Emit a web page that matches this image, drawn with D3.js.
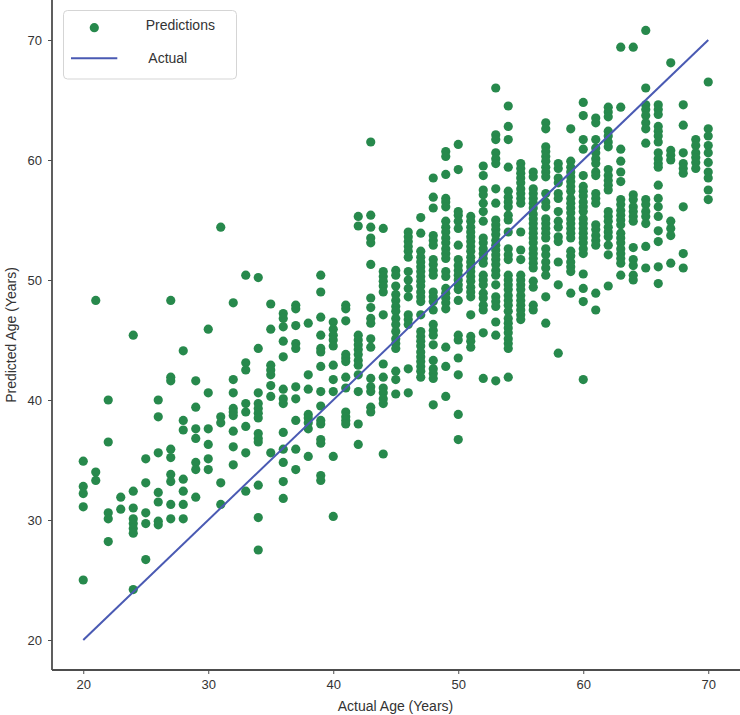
<!DOCTYPE html>
<html>
<head>
<meta charset="utf-8">
<script src="https://cdn.jsdelivr.net/npm/d3@7"></script>
<style>
  body { margin: 0; background: #fff; }
  svg { display: block; font-family: "Liberation Sans", Arial, sans-serif; }
</style>
</head>
<body>
<div id="chart"></div>
<script>
const ages = [20, 21, 22, 23, 24, 25, 26, 27, 28, 29, 30, 31, 32, 33, 34, 35, 36, 37, 38, 39,
  40, 41, 42, 43, 44, 45, 46, 47, 48, 49, 50, 51, 52, 53, 54, 55, 56, 57, 58, 59,
  60, 61, 62, 63, 64, 65, 66, 67, 68, 69, 70];

const predicted = [
  [34.9, 32.8, 32.2, 31.1, 25.0],
  [48.3, 34.0, 33.3],
  [40.0, 36.5, 30.6, 30.1, 28.2],
  [31.9, 30.9],
  [45.4, 32.4, 31.0, 30.1, 29.7, 29.3, 28.9, 24.2],
  [35.1, 33.1, 30.6, 29.7, 26.7],
  [40.0, 38.6, 35.6, 32.3, 31.5, 29.9, 29.6],
  [48.3, 41.9, 41.6, 35.9, 35.2, 33.8, 33.2, 31.3, 30.1],
  [44.1, 38.3, 37.5, 33.4, 32.4, 31.3, 30.1],
  [41.6, 39.4, 37.6, 36.8, 34.8, 34.2, 31.9],
  [45.9, 40.6, 37.6, 36.3, 35.1, 34.2],
  [54.4, 38.6, 38.1, 33.1, 31.3],
  [48.1, 41.7, 40.6, 39.3, 39.0, 38.7, 37.4, 36.1, 34.6],
  [50.4, 43.1, 42.5, 39.7, 39.0, 37.8, 35.6, 32.4],
  [50.2, 44.3, 40.6, 39.7, 39.3, 38.9, 38.5, 37.2, 36.8, 36.5, 32.9, 30.2, 27.5],
  [48.0, 45.9, 42.9, 42.5, 42.1, 41.2, 40.3, 35.6],
  [47.2, 46.8, 46.1, 44.9, 43.6, 40.9, 40.1, 39.7, 37.3, 35.9, 34.8, 33.2, 31.8],
  [47.9, 47.6, 46.2, 44.7, 44.3, 41.1, 40.1, 38.3, 35.9, 34.2],
  [46.4, 42.1, 40.9, 38.8, 38.5, 38.1, 37.6, 35.3],
  [50.4, 49.0, 46.9, 45.4, 44.3, 44.0, 42.8, 40.7, 39.5, 38.3, 38.0, 36.7, 36.4, 33.7, 33.3],
  [46.5, 45.9, 45.4, 45.0, 44.5, 42.9, 41.7, 40.7, 35.3, 30.3],
  [47.9, 47.6, 46.6, 43.8, 43.5, 43.2, 41.9, 41.0, 39.0, 38.6, 38.3, 38.0],
  [55.3, 54.5, 45.4, 45.0, 44.6, 44.2, 43.8, 43.3, 42.9, 42.1, 40.7, 38.0, 36.3],
  [61.5, 55.4, 54.4, 53.5, 53.1, 51.3, 48.5, 47.7, 46.8, 46.4, 45.1, 44.4, 41.8, 41.1, 40.7, 39.4, 39.0],
  [54.3, 50.7, 50.3, 49.9, 49.5, 49.0, 47.1, 43.0, 41.9, 41.0, 40.6, 40.1, 39.7, 35.5],
  [50.8, 50.4, 49.5, 48.8, 48.3, 47.8, 47.4, 46.8, 46.3, 45.7, 45.1, 44.7, 44.3, 42.4, 41.7, 40.5],
  [54.0, 53.6, 53.2, 52.8, 52.4, 51.9, 50.7, 50.0, 49.3, 48.6, 47.1, 46.7, 46.3, 42.6, 40.6],
  [55.2, 53.9, 52.4, 51.9, 51.5, 51.1, 50.7, 50.3, 49.9, 49.5, 49.0, 48.6, 48.2, 47.1, 45.7, 45.3,
   44.9, 44.5, 44.0, 43.6, 43.2, 42.8, 42.4, 41.9],
  [58.5, 56.9, 56.0, 53.7, 53.3, 52.9, 51.7, 51.3, 50.8, 50.4, 49.0, 48.6, 48.2, 47.5, 46.3, 45.8,
   45.4, 44.6, 43.3, 42.6, 42.2, 41.8, 39.6],
  [60.7, 60.3, 58.8, 56.8, 56.5, 56.1, 54.9, 54.4, 54.0, 53.5, 53.1, 52.6, 52.2, 51.8, 50.7, 50.3,
   49.3, 48.9, 48.5, 48.1, 47.6, 44.4, 42.8, 40.3],
  [61.3, 59.2, 55.7, 55.4, 54.9, 54.3, 52.9, 51.7, 51.2, 50.8, 50.4, 50.0, 49.6, 49.2, 48.3, 45.4,
   45.0, 43.5, 42.1, 38.8, 36.7],
  [55.3, 54.9, 54.4, 54.0, 53.6, 53.2, 52.8, 52.4, 51.9, 51.5, 51.1, 50.7, 50.3, 49.9, 49.4, 49.0,
   48.6, 47.1, 45.3, 44.9, 44.4],
  [59.5, 58.7, 57.5, 57.1, 56.4, 55.7, 54.9, 53.5, 53.1, 52.6, 52.2, 51.8, 51.4, 50.4, 50.0, 49.6,
   48.9, 48.5, 47.9, 47.5, 45.6, 41.8],
  [66.0, 62.1, 61.7, 60.6, 60.1, 59.7, 57.6, 56.4, 55.0, 54.6, 54.2, 53.8, 53.3, 52.9, 52.5, 52.1,
   51.7, 51.3, 50.8, 50.4, 49.6, 48.6, 48.2, 47.8, 46.5, 45.4, 41.6],
  [64.5, 62.8, 61.7, 59.4, 57.4, 56.9, 56.5, 56.1, 55.4, 55.0, 54.0, 52.6, 52.1, 51.7, 50.4, 50.0,
   49.6, 49.2, 48.7, 48.3, 47.9, 47.4, 46.8, 46.4, 46.0, 45.6, 45.1, 44.7, 44.3, 41.9],
  [59.7, 59.3, 58.9, 58.5, 58.1, 57.6, 57.2, 56.8, 56.4, 54.0, 52.5, 51.7, 50.4, 50.0, 49.6, 49.2,
   48.7, 48.3, 47.9, 47.5, 47.1, 46.7],
  [59.0, 58.6, 57.6, 57.2, 56.8, 56.4, 56.0, 55.5, 55.1, 54.7, 54.3, 53.9, 53.5, 53.1, 52.6, 52.2,
   51.8, 51.4, 51.0, 49.9, 49.4, 47.9, 47.5],
  [63.1, 62.6, 61.1, 60.7, 60.3, 59.9, 59.4, 59.0, 58.6, 57.2, 56.5, 56.1, 55.1, 54.7, 54.3, 53.9,
   53.5, 52.6, 52.1, 51.5, 51.0, 50.4, 48.6, 46.4],
  [59.7, 59.3, 58.5, 58.1, 57.2, 56.8, 55.7, 54.9, 54.4, 53.6, 53.2, 51.5, 49.6, 43.9],
  [62.6, 59.9, 59.4, 59.0, 58.6, 58.2, 57.8, 57.4, 56.8, 56.4, 56.0, 55.6, 55.1, 54.7, 54.3, 53.9,
   53.5, 52.4, 52.0, 51.5, 51.1, 50.7, 48.9],
  [64.8, 63.7, 61.7, 60.9, 58.7, 57.8, 57.4, 57.0, 56.5, 56.1, 55.7, 55.1, 54.7, 54.3, 53.9, 53.5,
   53.1, 52.6, 52.2, 50.5, 49.3, 48.2, 41.7],
  [63.5, 63.1, 61.7, 61.0, 60.6, 60.1, 59.7, 59.0, 58.7, 57.2, 56.8, 56.4, 54.6, 54.2, 53.7, 53.3,
   52.9, 48.9, 47.5],
  [64.4, 64.0, 63.6, 62.4, 62.0, 61.5, 61.1, 59.2, 58.7, 58.3, 57.9, 57.5, 55.7, 55.3, 54.9, 54.4,
   54.0, 53.6, 52.9, 52.1, 49.5],
  [69.4, 64.4, 60.9, 59.9, 59.0, 58.2, 56.7, 56.3, 55.8, 55.4, 55.0, 54.6, 53.9, 53.5, 53.1, 52.6,
   52.2, 51.8, 51.4, 50.4],
  [69.4, 57.1, 56.7, 56.1, 55.7, 55.3, 54.9, 52.7, 51.7, 51.2, 50.4, 50.0],
  [70.8, 66.0, 64.6, 64.2, 63.7, 63.1, 62.6, 61.4, 56.7, 56.3, 55.7, 55.3, 54.7, 52.8, 51.0],
  [64.6, 64.2, 63.8, 62.8, 62.4, 62.0, 61.5, 60.6, 60.1, 59.7, 59.4, 57.9, 56.8, 56.1, 55.3, 54.1,
   53.2, 51.1, 49.7],
  [68.1, 60.8, 60.4, 60.0, 54.9, 54.3, 53.7, 51.4],
  [64.6, 62.9, 60.6, 59.7, 59.3, 58.9, 56.1, 52.2, 51.0],
  [61.7, 61.2, 60.6, 60.2, 59.8, 59.3],
  [66.5, 62.6, 62.0, 61.2, 60.6, 59.8, 59.0, 58.5, 57.5, 56.7]
];

// the "Actual" reference line, y = x
const actualLine = [20, 70];

const xTicks = [20, 30, 40, 50, 60, 70];
const yTicks = [20, 30, 40, 50, 60, 70];

const width = 740;
const height = 715;

const points = [];
ages.forEach((a, i) => predicted[i].forEach(p => points.push({ age: a, pred: p })));

const x = d3.scaleLinear().domain([17.5, 72.5]).range([52, 739.5]);
const y = d3.scaleLinear().domain([17.5, 73.5]).range([670, -2]);

const svg = d3.select("#chart")
  .append("svg")
  .attr("width", width)
  .attr("height", height);

// scatter
svg.append("g")
  .selectAll("circle")
  .data(points)
  .enter()
  .append("circle")
  .attr("cx", d => x(d.age))
  .attr("cy", d => y(d.pred))
  .attr("r", 4.6)
  .attr("fill", "#27894c");

// actual line
svg.append("line")
  .attr("x1", x(actualLine[0]))
  .attr("y1", y(actualLine[0]))
  .attr("x2", x(actualLine[1]))
  .attr("y2", y(actualLine[1]))
  .attr("stroke", "#4a5ab3")
  .attr("stroke-width", 2);

// axes
const xAxis = svg.append("g")
  .attr("transform", "translate(0,670)")
  .call(d3.axisBottom(x).tickValues(xTicks).tickSize(4).tickPadding(6).tickSizeOuter(0));

const yAxis = svg.append("g")
  .attr("transform", "translate(52,0)")
  .call(d3.axisLeft(y).tickValues(yTicks).tickSize(4).tickPadding(6).tickSizeOuter(0));

[xAxis, yAxis].forEach(ax => {
  ax.select(".domain").attr("stroke", "#4d4d4d").attr("stroke-width", 1.8);
  ax.selectAll(".tick line").attr("stroke", "#4d4d4d").attr("stroke-width", 1);
  ax.selectAll(".tick text")
    .attr("fill", "#333")
    .style("font-size", "13px")
    .style("font-family", "Liberation Sans, Arial, sans-serif");
});

xAxis.select(".domain").attr("d", "M52,0H740");
yAxis.select(".domain").attr("d", "M0,670V0");

// axis titles
svg.append("text")
  .attr("x", 395.5)
  .attr("y", 711)
  .attr("text-anchor", "middle")
  .attr("fill", "#333")
  .style("font-size", "14px")
  .text("Actual Age (Years)");

svg.append("text")
  .attr("transform", "translate(16,335) rotate(-90)")
  .attr("text-anchor", "middle")
  .attr("fill", "#333")
  .style("font-size", "14px")
  .text("Predicted Age (Years)");

// legend
const legend = svg.append("g");

legend.append("rect")
  .attr("x", 63.5)
  .attr("y", 10.5)
  .attr("width", 173)
  .attr("height", 68.5)
  .attr("rx", 4)
  .attr("fill", "#fff")
  .attr("fill-opacity", 0.85)
  .attr("stroke", "#d5d5d5");

legend.append("circle")
  .attr("cx", 94.3)
  .attr("cy", 27.7)
  .attr("r", 4.6)
  .attr("fill", "#27894c");

legend.append("text")
  .attr("x", 145.7)
  .attr("y", 30)
  .attr("fill", "#333")
  .style("font-size", "14px")
  .text("Predictions");

legend.append("line")
  .attr("x1", 71)
  .attr("x2", 117.3)
  .attr("y1", 58.3)
  .attr("y2", 58.3)
  .attr("stroke", "#4a5ab3")
  .attr("stroke-width", 2);

legend.append("text")
  .attr("x", 148.3)
  .attr("y", 63.3)
  .attr("fill", "#333")
  .style("font-size", "14px")
  .text("Actual");
</script>
</body>
</html>
